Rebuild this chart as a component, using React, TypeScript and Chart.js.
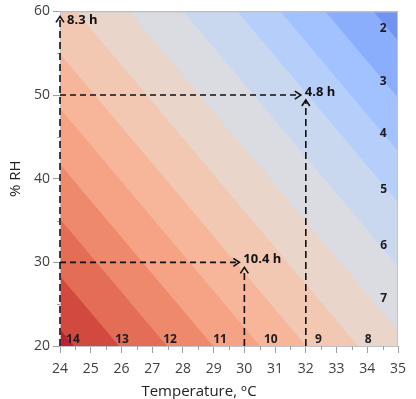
import React, { useEffect, useRef } from 'react';
import { Chart, registerables } from 'chart.js';

Chart.register(...registerables);

// Contour levels (hours) and where each contour line crosses the left (24 °C) and right (35 °C) edges, in % RH
const contourLevels = [2, 3, 4, 5, 6, 7, 8, 9, 10, 11, 12, 13, 14];
const contourEdgeTemps = [24, 35];
const contourRhAt24 = [104.5, 97.68, 91.29, 85.18, 77.51, 69.85, 62.32, 54.94, 48.4, 41.73, 35.19, 28.38, 21.99];
const contourRhAt35 = [56.5, 49.68, 43.29, 37.18, 29.51, 21.85, 14.32, 6.94, 0.4, -6.27, -12.81, -19.62, -26.01];

// band colours: index 0 = below 2 h ... index 13 = above 14 h
const bandColors = [
  '#7194f0', '#8aadfc', '#a2c1ff', '#b6cffa', '#cad8ef', '#dadce1', '#e9d5ca',
  '#f3c8b2', '#f7b69a', '#f6a284', '#ef896c', '#e46d56', '#d24a3f', '#ba2231',
];

// contour labels
const labelLevels = [14, 13, 12, 11, 10, 9, 8, 7, 6, 5, 4, 3, 2];
const labelTemps = [24.42, 26.02, 27.58, 29.21, 30.86, 32.41, 34.03, 34.53, 34.53, 34.53, 34.52, 34.52, 34.52];
const labelRhs = [20.77, 20.77, 20.77, 20.77, 20.77, 20.77, 20.77, 25.64, 31.95, 38.66, 45.44, 51.6, 57.99];

// annotated read-outs
const annotTemps = [24, 32, 30];
const annotRhs = [60, 50, 30];
const annotHours = [8.3, 4.8, 10.4];

// axes
const xMin = 24, xMax = 35, yMin = 20, yMax = 60;
const xMinorTicks = [24.5, 25.5, 26.5, 27.5, 28.5, 29.5, 30.5, 31.5, 32.5, 33.5, 34.5];
const yMinorTicks = [25, 35, 45, 55];

const FONT = "'Open Sans', 'DejaVu Sans', sans-serif";

export default function App() {
  const ref = useRef<HTMLCanvasElement | null>(null);

  useEffect(() => {
    const canvas = ref.current;
    if (!canvas) return;

    const datasets = contourLevels.map((lvl, i) => ({
      label: `${lvl} h`,
      data: contourEdgeTemps.map((t, j) => ({ x: t, y: j === 0 ? contourRhAt24[i] : contourRhAt35[i] })),
      fill: 'end' as const,
      backgroundColor: bandColors[lvl - 2],
      borderColor: 'rgba(0,0,0,0)',
      borderWidth: 0,
      pointRadius: 0,
      pointHoverRadius: 0,
      tension: 0,
    }));

    const overlay = {
      id: 'overlay',
      beforeDraw(chart: any) {
        const { ctx, chartArea: a } = chart;
        ctx.save();
        ctx.fillStyle = bandColors[bandColors.length - 1];
        ctx.fillRect(a.left, a.top, a.right - a.left, a.bottom - a.top);
        ctx.restore();
      },
      afterDatasetsDraw(chart: any) {
        const { ctx, chartArea: a, scales } = chart;
        const xs = scales.x, ys = scales.y;
        ctx.save();

        // frame
        ctx.strokeStyle = '#c2c2ca';
        ctx.lineWidth = 1;
        ctx.setLineDash([]);
        ctx.strokeRect(a.left + 0.5, a.top + 0.5, a.right - a.left - 1, a.bottom - a.top);

        // minor ticks
        ctx.strokeStyle = '#a0a0a0';
        ctx.beginPath();
        xMinorTicks.forEach((t) => {
          const px = Math.round(xs.getPixelForValue(t)) + 0.5;
          ctx.moveTo(px, a.bottom);
          ctx.lineTo(px, a.bottom + 4);
        });
        yMinorTicks.forEach((h) => {
          const py = Math.round(ys.getPixelForValue(h)) + 0.5;
          ctx.moveTo(a.left - 3, py);
          ctx.lineTo(a.left, py);
        });
        ctx.stroke();

        // contour labels
        ctx.fillStyle = '#1c1c22';
        ctx.font = `bold 12px ${FONT}`;
        ctx.textAlign = 'center';
        ctx.textBaseline = 'middle';
        labelLevels.forEach((lvl, i) => {
          ctx.fillText(String(lvl), xs.getPixelForValue(labelTemps[i]), ys.getPixelForValue(labelRhs[i]));
        });

        // annotations
        ctx.strokeStyle = '#111';
        ctx.fillStyle = '#111';
        ctx.lineWidth = 1.6;
        annotTemps.forEach((t, i) => {
          const px = xs.getPixelForValue(t);
          const py = ys.getPixelForValue(annotRhs[i]);
          // horizontal arrow
          const hx = px - 5;
          if (hx - a.left > 10) {
            ctx.setLineDash([6, 4]);
            ctx.beginPath();
            ctx.moveTo(a.left, py);
            ctx.lineTo(hx, py);
            ctx.stroke();
            ctx.setLineDash([]);
            ctx.beginPath();
            ctx.moveTo(hx - 6, py - 4);
            ctx.lineTo(hx, py);
            ctx.lineTo(hx - 6, py + 4);
            ctx.stroke();
          }
          // vertical arrow
          const vy = py + 5;
          ctx.setLineDash([7, 4]);
          ctx.beginPath();
          ctx.moveTo(px, a.bottom);
          ctx.lineTo(px, vy);
          ctx.stroke();
          ctx.setLineDash([]);
          ctx.beginPath();
          ctx.moveTo(px - 4, vy + 6);
          ctx.lineTo(px, vy);
          ctx.lineTo(px + 4, vy + 6);
          ctx.stroke();
          // label
          ctx.font = `bold 13px ${FONT}`;
          ctx.textAlign = 'left';
          ctx.textBaseline = 'middle';
          const lx = Math.max(px - 1, a.left + 7);
          const ly = Math.max(py - 3, a.top + 9);
          ctx.fillText(`${annotHours[i].toFixed(1)} h`, lx, ly);
        });

        ctx.restore();
      },
    };

    const chart = new Chart(canvas, {
      type: 'line',
      data: { datasets: datasets as any },
      options: {
        responsive: true,
        maintainAspectRatio: false,
        animation: false,
        devicePixelRatio: 1,
        events: [],
        layout: { padding: { top: 8, right: 18, left: 0, bottom: 0 } },
        plugins: {
          legend: { display: false },
          tooltip: { enabled: false },
          title: {
            display: true,
            position: 'bottom',
            text: 'Temperature, ᵒC',
            color: '#222',
            font: { family: FONT, size: 15, weight: 'normal' as any, lineHeight: 14 / 15 },
            padding: { top: 0, bottom: 0 },
          },
        },
        scales: {
          x: {
            type: 'linear',
            min: xMin,
            max: xMax,
            ticks: {
              stepSize: 1,
              color: '#404040',
              font: { family: FONT, size: 14 },
              padding: 8,
              maxRotation: 0,
              autoSkip: false,
            },
            grid: { drawOnChartArea: false, tickLength: 7, color: '#a0a0a0', tickWidth: 1 },
            border: { display: false },
            afterFit: (s: any) => { s.height = 39; },
          },
          y: {
            type: 'linear',
            min: yMin,
            max: yMax,
            ticks: {
              stepSize: 10,
              color: '#404040',
              font: { family: FONT, size: 14 },
              padding: 3,
            },
            grid: { drawOnChartArea: false, tickLength: 7, color: '#a0a0a0', tickWidth: 1 },
            border: { display: false },
            title: {
              display: true,
              text: '% RH',
              color: '#222',
              font: { family: FONT, size: 15 },
              padding: { top: 7, bottom: 0 },
            },
            afterFit: (s: any) => { s.width = 60; },
          },
        },
      },
      plugins: [overlay],
    });

    return () => chart.destroy();
  }, []);

  return (
    <div style={{ position: 'fixed', left: 0, top: 0, width: 416, height: 399, background: '#fff' }}>
      <canvas ref={ref} />
    </div>
  );
}
